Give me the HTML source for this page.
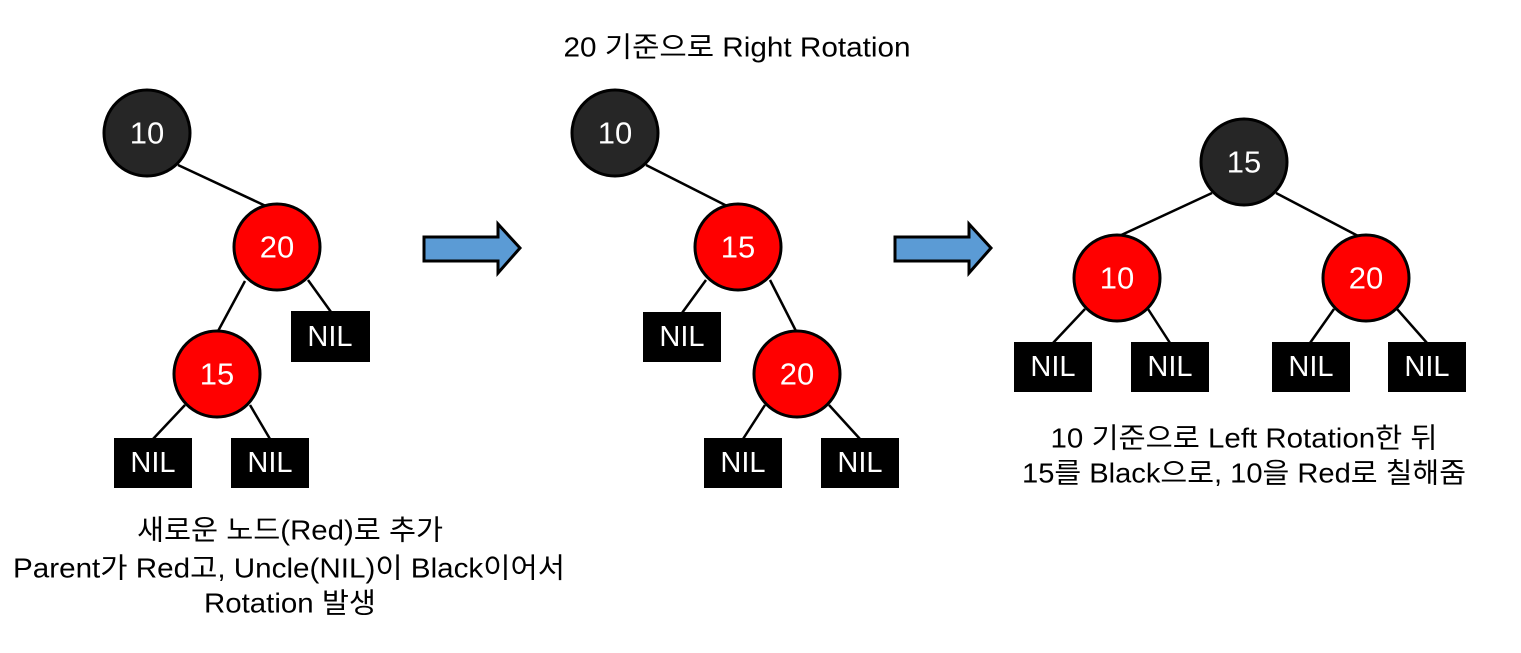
<!DOCTYPE html>
<html><head><meta charset="utf-8"><style>body{margin:0;background:#fff}</style></head><body>
<svg width="1521" height="648" xmlns="http://www.w3.org/2000/svg" font-family="'Liberation Sans','Noto Sans CJK KR',sans-serif">
<g stroke="#000" stroke-width="2.5">
<line x1="178" y1="165" x2="268" y2="207"/><line x1="245" y1="281" x2="217" y2="333"/><line x1="308" y1="280" x2="331" y2="312"/>
<line x1="185" y1="405" x2="153" y2="439"/><line x1="250" y1="405" x2="270" y2="439"/>
<line x1="646" y1="165" x2="729" y2="207"/><line x1="706" y1="280" x2="682" y2="313"/><line x1="770" y1="280" x2="797" y2="333"/>
<line x1="765" y1="405" x2="743" y2="439"/><line x1="829" y1="405" x2="860" y2="439"/>
<line x1="1212" y1="193" x2="1117" y2="237"/><line x1="1276" y1="193" x2="1360" y2="237"/>
<line x1="1085" y1="309" x2="1053" y2="343"/><line x1="1148" y1="309" x2="1170" y2="343"/>
<line x1="1334" y1="309" x2="1310" y2="343"/><line x1="1397" y1="309" x2="1427" y2="343"/>
</g>
<g stroke="#000" stroke-width="3">
<circle cx="147" cy="133" r="43" fill="#262626"/><circle cx="277" cy="247" r="43" fill="#f00"/><circle cx="217" cy="374" r="43" fill="#f00"/>
<circle cx="615" cy="133" r="43" fill="#262626"/><circle cx="738" cy="247" r="43" fill="#f00"/><circle cx="797" cy="374" r="43" fill="#f00"/>
<circle cx="1244" cy="162" r="43" fill="#262626"/><circle cx="1117" cy="278" r="43" fill="#f00"/><circle cx="1366" cy="278" r="43" fill="#f00"/>
</g>
<g fill="#000">
<rect x="291" y="311" width="79" height="51"/><rect x="114" y="438" width="78" height="50"/><rect x="231" y="438" width="78" height="50"/>
<rect x="643" y="312" width="78" height="50"/><rect x="704" y="438" width="78" height="50"/><rect x="821" y="438" width="78" height="50"/>
<rect x="1014" y="342" width="78" height="50"/><rect x="1131" y="342" width="78" height="50"/><rect x="1272" y="342" width="78" height="50"/><rect x="1388" y="342" width="78" height="50"/>
</g>
<g fill="#5b9bd5" stroke="#000" stroke-width="3">
<polygon points="424,237 498,237 498,224 520,248 498,273 498,261 424,261"/>
<polygon points="895,237 969,237 969,224 991,248 969,273 969,261 895,261"/>
</g>
<g fill="#fff" font-size="31" text-anchor="middle" dominant-baseline="central">
<text x="147" y="133">10</text><text x="277" y="247">20</text><text x="217" y="374">15</text>
<text x="615" y="133">10</text><text x="738" y="247">15</text><text x="797" y="374">20</text>
<text x="1244" y="162">15</text><text x="1117" y="278">10</text><text x="1366" y="278">20</text>
</g>
<g fill="#fff" font-size="29" text-anchor="middle" dominant-baseline="central">
<text x="330" y="337">NIL</text><text x="153" y="463">NIL</text><text x="270" y="463">NIL</text>
<text x="682" y="337">NIL</text><text x="743" y="463">NIL</text><text x="860" y="463">NIL</text>
<text x="1053" y="367">NIL</text><text x="1170" y="367">NIL</text><text x="1311" y="367">NIL</text><text x="1427" y="367">NIL</text>
</g>
<g fill="#000" font-size="28" text-anchor="middle" dominant-baseline="central" lengthAdjust="spacingAndGlyphs">
<text x="737" y="47" textLength="347" lengthAdjust="spacingAndGlyphs">20 기준으로 Right Rotation</text>
<text x="290" y="530" textLength="306" lengthAdjust="spacingAndGlyphs">새로운 노드(Red)로 추가</text>
<text x="289" y="568" textLength="552" lengthAdjust="spacingAndGlyphs">Parent가 Red고, Uncle(NIL)이 Black이어서</text>
<text x="290" y="603" textLength="172" lengthAdjust="spacingAndGlyphs">Rotation 발생</text>
<text x="1244" y="438" textLength="387" lengthAdjust="spacingAndGlyphs">10 기준으로 Left Rotation한 뒤</text>
<text x="1244" y="473" textLength="444" lengthAdjust="spacingAndGlyphs">15를 Black으로, 10을 Red로 칠해줌</text>
</g>
</svg>
</body></html>
